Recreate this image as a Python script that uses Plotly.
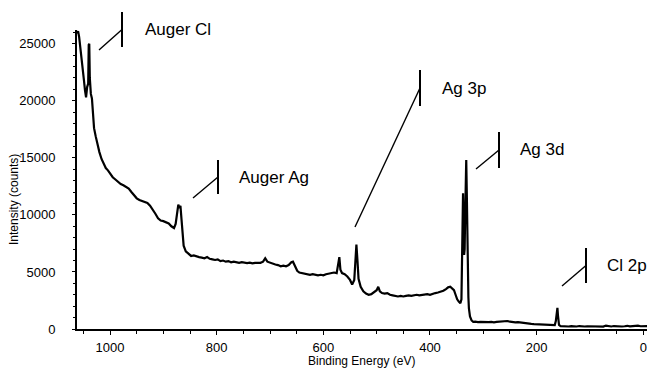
import plotly.graph_objects as go

# Binding energy (eV) and intensity (counts)
energy = [1062, 1060, 1058, 1055, 1052, 1049, 1047, 1045, 1043, 1041, 1040, 1039, 1038, 1036, 1034,
          1032, 1030, 1027, 1024, 1020, 1016, 1012, 1008, 1004, 1000, 995, 990, 985, 980, 975, 970,
          965, 960, 955, 950, 945, 940, 935, 930, 925, 920, 915, 910, 905, 900, 895, 890, 885, 880,
          877, 874, 872, 870, 868, 866, 864, 862, 858, 853, 848, 843, 838, 833, 828, 823, 818, 813,
          808, 803, 798, 793, 788, 783, 778, 773, 768, 763, 758, 753, 748, 743, 738, 733, 728, 723,
          718, 713, 709, 705, 700, 695, 690, 685, 680, 675, 670, 665, 660, 657, 653, 649, 645, 640,
          635, 630, 625, 620, 615, 610, 605, 600, 595, 590, 585, 580, 575, 572, 570, 568, 565, 560,
          555, 550, 546, 542, 540, 538, 536, 534, 530, 525, 520, 515, 510, 505, 500, 497, 494, 490,
          485, 480, 475, 470, 465, 460, 455, 450, 445, 440, 435, 430, 425, 420, 415, 410, 405, 400,
          395, 390, 385, 380, 375, 370, 366, 362, 358, 355, 352, 349, 346, 343, 341, 340, 339, 338,
          337, 336, 335, 334, 333, 332, 331, 330, 329, 328, 327, 325, 322, 319, 315, 310, 305, 300,
          295, 290, 285, 280, 275, 270, 265, 260, 255, 250, 245, 240, 235, 230, 225, 220, 215, 210,
          205, 200, 195, 190, 185, 180, 175, 170, 166, 164, 162, 161, 160, 158, 155, 150, 145, 140,
          135, 130, 125, 120, 115, 110, 105, 100, 95, 90, 85, 80, 75, 70, 65, 60, 55, 50, 45, 40,
          35, 30, 25, 20, 15, 10, 5, 0, -5, -10, -15, -20]
intensity = [25900, 26100, 25600, 24500, 23000, 21800, 20900, 20300, 21200, 21500, 24900, 25000, 22000, 20600, 20200,
             18400, 17600, 16900, 16200, 15500, 14900, 14500, 14100, 13900, 13600, 13300, 13100, 12900, 12700, 12600, 12450,
             12300, 12000, 11700, 11450, 11300, 11200, 11150, 11050, 10800, 10500, 10100, 9700, 9500, 9450, 9350, 9250, 9000, 8850,
             9200, 10200, 10900, 10600, 10800, 9600, 8200, 7300, 6800, 6600, 6400, 6450, 6350, 6300, 6250, 6200, 6300, 6150,
             6100, 6050, 6100, 5950, 6000, 5900, 5950, 5850, 5900, 5880, 5800, 5850, 5800, 5780, 5820, 5750, 5800, 5780,
             5800, 5900, 6200, 5900, 5800, 5700, 5650, 5600, 5500, 5550, 5500, 5600, 5850, 5900, 5500, 5100, 4950, 4900,
             4850, 4800, 4750, 4800, 4750, 4700, 4750, 4700, 4800, 4850, 4900, 4950, 4900, 5600, 6300, 5200, 4900, 4800,
             4600, 4300, 3900, 4300, 6000, 7400, 6000, 4400, 3700, 3300, 3100, 3000, 3050, 3200, 3400, 3700, 3300, 3150,
             3100, 3150, 3000, 2950, 2900, 2850, 2900, 2850, 2900, 2950, 2900, 2950, 3000, 2950, 2980, 3000, 3050, 3000,
             3100, 3150, 3200, 3250, 3350, 3500, 3650, 3700, 3550, 3400, 3000, 2600, 2400, 2250, 2600, 5000, 9000, 11900,
             9500, 6500, 7000, 10000, 13500, 14800, 12000, 7000, 3500, 2800, 1800, 1100, 750, 620, 650, 600, 620, 600,
             580, 600, 620, 580, 620, 640, 600, 620, 700, 640, 600, 580, 600, 560, 520, 500, 480, 450,
             430, 420, 400, 380, 370, 350, 340, 330, 340, 700, 1700, 1850, 1200, 350, 250, 230, 240, 220,
             250, 230, 220, 260, 230, 220, 240, 230, 210, 250, 220, 240, 210, 300, 230, 220, 260, 230, 250, 220,
             240, 280, 230, 250, 230, 300, 240, 250, 280, 240, 260, 250]

x_ticks = [1000, 800, 600, 400, 200, 0]
y_ticks = [0, 5000, 10000, 15000, 20000, 25000]
peak_labels = ["Auger Cl", "Auger Ag", "Ag 3p", "Ag 3d", "Cl 2p"]

# page offset of the figure (default body margin) and plot area in page pixels
OFF = 8
L, R, T, B = 77, 655, 30, 329
W, H = 655 - OFF, 368 - OFF


def px(x):
    return (x - L) / (R - L)


def py(y):
    return (B - y) / (B - T)


fig = go.Figure()
fig.add_trace(go.Scatter(x=energy, y=intensity, mode="lines",
                         line=dict(color="black", width=2.2), showlegend=False))

# label geometry: (text left, text centre y, bar x, bar top, bar bottom, diag end x, diag end y)
geom = [
    (145, 29, 122, 12, 47, 99, 50),
    (239, 177, 218, 160, 194, 193, 198),
    (442, 88, 420, 70, 106, 355, 227),
    (520, 149, 499, 132, 168, 476, 169),
    (607, 265, 586, 248, 283, 562, 286),
]
shapes = []
annotations = []
for lab, (tx, ty, bx, bt, bb, dx, dy) in zip(peak_labels, geom):
    shapes.append(dict(type="line", xref="paper", yref="paper",
                       x0=px(bx), x1=px(bx), y0=py(bt), y1=py(bb),
                       line=dict(color="black", width=2)))
    shapes.append(dict(type="line", xref="paper", yref="paper",
                       x0=px(bx), x1=px(dx), y0=py((bt + bb) / 2), y1=py(dy),
                       line=dict(color="black", width=1.4)))
    annotations.append(dict(text=lab, xref="paper", yref="paper", x=px(tx - 2), y=py(ty),
                            xanchor="left", yanchor="middle", showarrow=False,
                            font=dict(size=17, color="black", family="Liberation Sans, Arial")))

annotations.append(dict(text="Intensity (counts)", xref="paper", yref="paper",
                        x=px(14), y=py(200), textangle=-90, showarrow=False,
                        xanchor="center", yanchor="middle",
                        font=dict(size=12, color="black", family="Liberation Sans, Arial")))
annotations.append(dict(text="Binding Energy (eV)", xref="paper", yref="paper",
                        x=px(361), y=py(361), showarrow=False,
                        xanchor="center", yanchor="middle",
                        font=dict(size=12, color="black", family="Liberation Sans, Arial")))

fig.update_layout(
    width=W, height=H,
    margin=dict(l=L - OFF, r=W + OFF - R, t=T - OFF, b=H + OFF - B, autoexpand=False),
    paper_bgcolor="white", plot_bgcolor="white",
    shapes=shapes, annotations=annotations,
    font=dict(family="Liberation Sans, Arial", size=13, color="black"),
    xaxis=dict(range=[1062, -22], tickvals=x_ticks, ticktext=[str(v) for v in x_ticks],
               showgrid=False, zeroline=False, showline=True, linecolor="black", linewidth=2,
               ticks="outside", ticklen=4, tickcolor="black", tickwidth=1,
               minor=dict(dtick=50, ticks="outside", ticklen=3, tickcolor="black", showgrid=False),
               tickfont=dict(size=13), ticklabelstandoff=1),
    yaxis=dict(range=[0, 26200], tickvals=y_ticks, ticktext=[str(v) for v in y_ticks],
               showgrid=False, zeroline=False, showline=True, linecolor="black", linewidth=2,
               ticks="outside", ticklen=3, tickcolor="black", tickwidth=1,
               minor=dict(dtick=1000, ticks="outside", ticklen=2, tickcolor="black", showgrid=False),
               tickfont=dict(size=13), ticklabelstandoff=14),
)

fig.write_html("out.html")
